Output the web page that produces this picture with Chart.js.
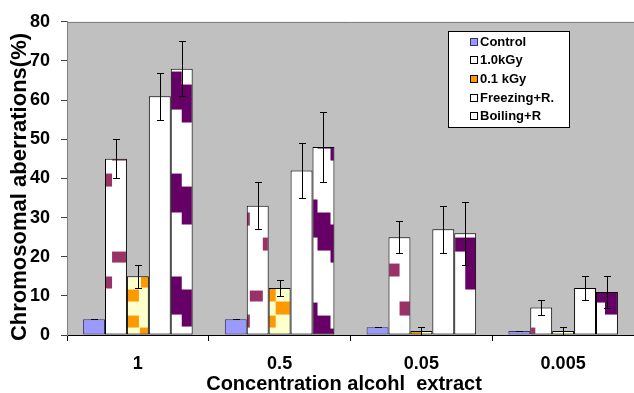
<!DOCTYPE html>
<html>
<head>
<meta charset="utf-8">
<script src="https://cdn.jsdelivr.net/npm/chart.js@4"></script>
<style>
  html, body { margin: 0; padding: 0; background: #ffffff; overflow: hidden; }
  #wrap { width: 634px; height: 393px; position: relative; }
</style>
</head>
<body>
<div id="wrap"><canvas id="chart" width="634" height="393"></canvas></div>
<script>
// ---- data ----
const categories = ['1', '0.5', '0.05', '0.005'];
const seriesNames = ['Control', '1.0kGy', '0.1 kGy', 'Freezing+R.', 'Boiling+R'];

const controlValues  = [4, 4, 2, 1];
const kgy10Values    = [45, 33, 25, 7];
const kgy01Values    = [15, 12, 1, 1];
const freezingValues = [61, 42, 27, 12];
const boilingValues  = [68, 48, 26, 11];

const controlErrors  = [0, 0, 0, 0];
const kgy10Errors    = [5, 6, 4, 2];
const kgy01Errors    = [3, 2, 1, 1];
const freezingErrors = [6, 7, 6, 3];
const boilingErrors  = [7, 9, 8, 4];

const yTickStep = 10;
const yMax = 80;

const yAxisTitle = 'Chromosomal aberrations(%)';
const xAxisTitle = 'Concentration alcohl  extract';

// ---- styles ----
const FONT = "'Liberation Sans', Arial, Helvetica, sans-serif";
const PLOT_BG = '#C0C0C0';

// Fill textures: blocks given as [x0, x1, up0, up1] in px, measured from a bar's
// left edge and upward from its base, one list per category.
const TEX_W = 26, TEX_H = 340;
const textureStyles = {
  kgy10: { bg: '#FFFFFF', ink: '#993366', blocks: [
    [[0,7,46,58],[7,22,72,83],[0,7,148,161],[7,22,174,186]],
    [[0,3,7,20],[3,16,33,44],[16,22,84,97],[0,3,109,122]],
    [[0,11,58,71],[11,22,19,33]],
    [[0,5,0,7]]
  ]},
  kgy01: { bg: '#FFFFCC', ink: '#FF9900', blocks: [
    [[14,22,47,58],[0,12,33,45],[0,12,7,19],[13,22,0,7]],
    [[0,7,33,46],[7,22,20,33],[0,7,7,19]],
    [[0,11,0,4]],
    []
  ]},
  boiling: { bg: '#FFFFFF', ink: '#660066', blocks: [
    [[0,11,225,263],[0,11,122,161],[0,11,20,58],[11,22,212,250],[11,22,110,148],[11,22,8,45]],
    [[0,5,0,32],[5,18,0,19],[18,22,0,6],[0,5,97,135],[5,18,84,122],[18,22,72,110],[5,22,186,190],[18,22,174,190]],
    [[0,11,83,97],[11,22,45,97]],
    [[0,9,32,43],[9,22,20,43]]
  ]}
};

function makeTexture(style, blocks) {
  const c = document.createElement('canvas');
  c.width = TEX_W; c.height = TEX_H;
  const g = c.getContext('2d');
  g.fillStyle = style.bg;
  g.fillRect(0, 0, TEX_W, TEX_H);
  g.fillStyle = style.ink;
  blocks.forEach(([x0, x1, u0, u1]) => {
    g.fillRect(x0, TEX_H - u1, x1 - x0, u1 - u0);
  });
  return g.createPattern(c, 'repeat');
}

function texturesFor(key) {
  const st = textureStyles[key];
  return categories.map((_, i) => makeTexture(st, st.blocks[i] || []));
}

const datasets = [
  { label: seriesNames[0], data: controlValues,  errors: controlErrors,
    backgroundColor: '#9999FF', borderColor: '#333366', swatch: '#9999FF' },
  { label: seriesNames[1], data: kgy10Values,    errors: kgy10Errors,
    backgroundColor: texturesFor('kgy10'), borderColor: '#000000', swatch: '#FFFFFF', textured: true },
  { label: seriesNames[2], data: kgy01Values,    errors: kgy01Errors,
    backgroundColor: texturesFor('kgy01'), borderColor: '#000000', swatch: '#FF9900', textured: true },
  { label: seriesNames[3], data: freezingValues, errors: freezingErrors,
    backgroundColor: '#FFFFFF', borderColor: '#000000', swatch: '#FFFFFF' },
  { label: seriesNames[4], data: boilingValues,  errors: boilingErrors,
    backgroundColor: texturesFor('boiling'), borderColor: '#000000', swatch: '#FFFFFF', textured: true }
].map(d => Object.assign({ borderWidth: 1, borderSkipped: false, categoryPercentage: 0.773, barPercentage: 1.0 }, d));

// Gray plot area with its top frame line
const plotBackground = {
  id: 'plotBackground',
  beforeDraw(chart) {
    const { ctx, chartArea: a } = chart;
    ctx.save();
    ctx.fillStyle = PLOT_BG;
    ctx.fillRect(a.left, a.top, a.right - a.left, a.bottom - a.top);
    ctx.strokeStyle = '#808080';
    ctx.lineWidth = 1;
    ctx.beginPath();
    ctx.moveTo(a.left, Math.round(a.top) + 0.5);
    ctx.lineTo(a.right, Math.round(a.top) + 0.5);
    ctx.stroke();
    ctx.restore();
  }
};

// Anchor each bar's texture to that bar's left edge and base
const textureAnchor = {
  id: 'textureAnchor',
  beforeDatasetsDraw(chart) {
    chart.data.datasets.forEach((ds, i) => {
      if (!ds.textured) return;
      chart.getDatasetMeta(i).data.forEach((bar, j) => {
        const p = ds.backgroundColor[j];
        if (p && p.setTransform) {
          p.setTransform(new DOMMatrix([1, 0, 0, 1, bar.x - bar.width / 2, bar.base - TEX_H]));
        }
      });
    });
  }
};

// Error bars with caps
const errorBars = {
  id: 'errorBars',
  afterDatasetsDraw(chart) {
    const { ctx } = chart;
    const ys = chart.scales.y;
    ctx.save();
    ctx.strokeStyle = '#000000';
    ctx.lineWidth = 1;
    chart.data.datasets.forEach((ds, i) => {
      chart.getDatasetMeta(i).data.forEach((bar, j) => {
        const v = ds.data[j], e = ds.errors[j];
        const x = Math.round(bar.x) + 0.5;
        const yt = Math.round(ys.getPixelForValue(v + e)) + 0.5;
        const yb = Math.round(ys.getPixelForValue(Math.max(0, v - e))) + 0.5;
        ctx.beginPath();
        ctx.moveTo(x, yt); ctx.lineTo(x, yb);
        ctx.moveTo(x - 3.5, yt); ctx.lineTo(x + 3.5, yt);
        ctx.moveTo(x - 3.5, yb); ctx.lineTo(x + 3.5, yb);
        ctx.stroke();
      });
    });
    ctx.restore();
  }
};

// Axis titles and the boxed legend
const annotations = {
  id: 'annotations',
  afterDraw(chart) {
    const { ctx, chartArea: a } = chart;
    ctx.save();
    ctx.fillStyle = '#000000';
    ctx.textAlign = 'center';
    ctx.textBaseline = 'middle';

    ctx.font = 'bold 22px ' + FONT;
    ctx.save();
    ctx.translate(20, 187);
    ctx.rotate(-Math.PI / 2);
    ctx.fillText(yAxisTitle, 0, 0);
    ctx.restore();

    ctx.font = 'bold 20px ' + FONT;
    ctx.fillText(xAxisTitle, 344, 384);

    // legend box
    const bx = 448.5, by = 31.5, bw = 121, bh = 96;
    ctx.fillStyle = '#FFFFFF';
    ctx.fillRect(bx, by, bw, bh);
    ctx.strokeStyle = '#000000';
    ctx.lineWidth = 1;
    ctx.strokeRect(bx, by, bw, bh);
    ctx.font = 'bold 13px ' + FONT;
    ctx.textAlign = 'left';
    chart.data.datasets.forEach((ds, i) => {
      const cy = 41 + i * 18.7;
      ctx.fillStyle = ds.swatch;
      ctx.fillRect(470.5, Math.round(cy - 3.5) + 0.5, 7, 7);
      ctx.strokeStyle = ds.borderColor;
      ctx.strokeRect(470.5, Math.round(cy - 3.5) + 0.5, 7, 7);
      ctx.fillStyle = '#000000';
      ctx.fillText(ds.label, 480, cy + 1);
    });
    ctx.restore();
  }
};

Chart.defaults.font.family = FONT;
Chart.defaults.color = '#000000';

new Chart(document.getElementById('chart'), {
  type: 'bar',
  data: { labels: categories, datasets },
  options: {
    responsive: false,
    animation: false,
    events: [],
    layout: { padding: { top: 18, right: -2, left: 0, bottom: 0 } },
    plugins: { legend: { display: false }, tooltip: { enabled: false }, title: { display: false } },
    scales: {
      x: {
        offset: true,
        grid: { display: true, offset: true, drawOnChartArea: false, drawTicks: true, tickLength: 6, color: '#000000' },
        border: { display: true, color: '#000000', width: 1 },
        ticks: { font: { size: 18, weight: 'bold' }, color: '#000000', padding: 12 },
        afterFit(s) { s.height = 58; }
      },
      y: {
        min: 0, max: yMax,
        grid: { display: true, drawOnChartArea: false, drawTicks: true, tickLength: 6, color: '#404040' },
        border: { display: true, color: '#808080', width: 1 },
        ticks: { stepSize: yTickStep, font: { size: 18, weight: 'bold' }, color: '#000000', padding: 11 },
        afterFit(s) { s.width = 67; }
      }
    }
  },
  plugins: [plotBackground, textureAnchor, errorBars, annotations]
});
</script>
</body>
</html>
